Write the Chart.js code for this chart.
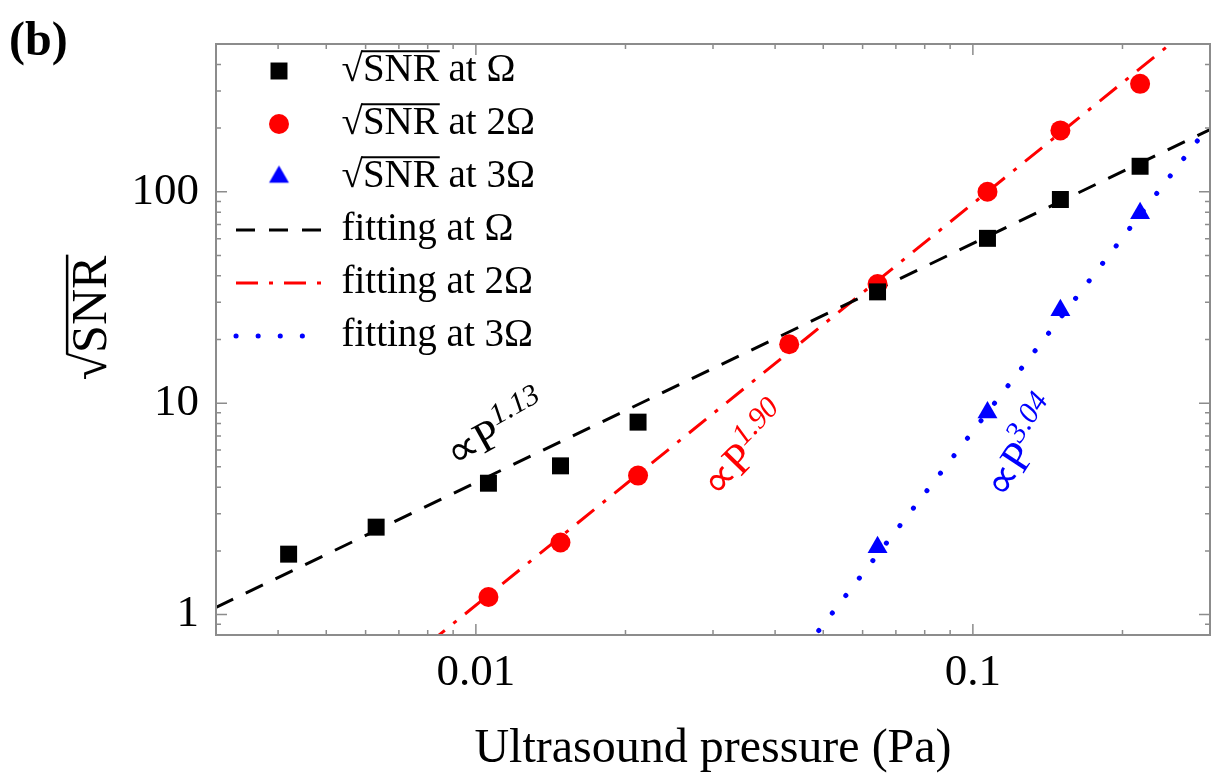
<!DOCTYPE html>
<html>
<head>
<meta charset="utf-8">
<script src="https://cdn.jsdelivr.net/npm/chart.js@4.4.0/dist/chart.umd.min.js"></script>
<style>
  html, body { margin: 0; padding: 0; background: #fff; }
</style>
</head>
<body>
<canvas id="grafico" width="1222" height="782"></canvas>
<script>
// pontos medidos (Pa, sqrt(SNR))
var pressaoOmega = [0.0042, 0.0063, 0.0106, 0.0148, 0.0212, 0.0643, 0.107, 0.150, 0.217];
var snrOmega = [1.93, 2.59, 4.18, 5.05, 8.13, 33.6, 60.2, 91.9, 132];
var pressao2Omega = [0.0106, 0.0148, 0.0212, 0.0427, 0.0643, 0.107, 0.150, 0.217];
var snr2Omega = [1.21, 2.19, 4.54, 19.0, 36.6, 100, 195, 324];
var pressao3Omega = [0.0643, 0.107, 0.150, 0.217];
var snr3Omega = [2.08, 9.04, 27.5, 79.2];

// retas de ajuste (extremos)
var ajusteOmegaX = [0.003, 0.3];
var ajusteOmegaY = [1.08, 197];
var ajuste2OmegaX = [0.008, 0.26];
var ajuste2OmegaY = [0.724, 540];
var ajuste3OmegaX = [0.046, 0.3];
var ajuste3OmegaY = [0.694, 208];

// marcas dos eixos
var xTicks = [0.01, 0.1];
var xMenores = [0.004, 0.005, 0.006, 0.007, 0.008, 0.009, 0.02, 0.03, 0.04, 0.05, 0.06, 0.07, 0.08, 0.09, 0.2];
var yTicks = [1, 10, 100];
var yMenores = [0.9, 2, 3, 4, 5, 6, 7, 8, 9, 20, 30, 40, 50, 60, 70, 80, 90, 200, 300, 400];

var fonte = 'Liberation Serif';
var legFonte = 39, legPad = 14, legCaixa = 86;

var rotulos = [
  { base: '\u221DP', exp: '1.13', x: 0.0110, y: 7.47, ang: -29, cor: '#000' },
  { base: '\u221DP', exp: '1.90', x: 0.0349, y: 5.98, ang: -46, cor: '#f00' },
  { base: '\u221DP', exp: '3.04', x: 0.126, y: 6.18, ang: -57, cor: '#00f' }
];

function pontos(xs, ys) {
  return xs.map(function(x, i) { return { x: x, y: ys[i] }; });
}

// simbolo da legenda no tamanho do ponto
function marcador(estilo, raio, cor) {
  var c = document.createElement('canvas');
  c.width = c.height = Math.ceil(2 * raio + 4);
  var g = c.getContext('2d');
  g.fillStyle = cor;
  Chart.helpers.drawPoint(g, { pointStyle: estilo, radius: raio, borderWidth: 0, rotation: 0 }, c.width / 2, c.height / 2);
  return c;
}

// barra da raiz sobre "SNR"
function barraRaiz(ctx, x, y) {
  var wRaiz = ctx.measureText('\u221A').width;
  var wTudo = ctx.measureText('\u221ASNR').width;
  var topo = y - ctx.measureText('\u221A').actualBoundingBoxAscent;
  ctx.beginPath();
  ctx.moveTo(x + wRaiz - 1.5, topo + 1);
  ctx.lineTo(x + wTudo + 1, topo + 1);
  ctx.stroke();
}

var molduraPlugin = {
  id: 'moldura',
  beforeDraw: function(chart) {
    var leg = chart.legend;
    leg.left = 222;
    leg.top = 37.5;
    leg.bottom = 635;
  },
  afterDraw: function(chart) {
    var ctx = chart.ctx, a = chart.chartArea;
    var sx = chart.scales.x, sy = chart.scales.y;
    ctx.save();
    ctx.strokeStyle = '#8c8c8c';
    ctx.lineWidth = 2;
    ctx.strokeRect(a.left, a.top, a.right - a.left, a.bottom - a.top);
    ctx.lineWidth = 1.5;
    ctx.beginPath();
    function marcaX(v, t) {
      var p = sx.getPixelForValue(v);
      ctx.moveTo(p, a.bottom); ctx.lineTo(p, a.bottom - t);
      ctx.moveTo(p, a.top); ctx.lineTo(p, a.top + t);
    }
    function marcaY(v, t) {
      var p = sy.getPixelForValue(v);
      ctx.moveTo(a.left, p); ctx.lineTo(a.left + t, p);
      ctx.moveTo(a.right, p); ctx.lineTo(a.right - t, p);
    }
    xTicks.forEach(function(v) { marcaX(v, 11); });
    xMenores.forEach(function(v) { marcaX(v, 5); });
    yTicks.forEach(function(v) { marcaY(v, 11); });
    yMenores.forEach(function(v) { marcaY(v, 5); });
    ctx.stroke();

    // (b)
    ctx.fillStyle = '#000';
    ctx.font = 'bold 48px ' + fonte;
    ctx.textAlign = 'left';
    ctx.textBaseline = 'alphabetic';
    ctx.fillText('(b)', 9, 55);

    // titulo do eixo y
    ctx.save();
    ctx.translate(93, 318);
    ctx.rotate(-Math.PI / 2);
    ctx.font = '50px ' + fonte;
    ctx.textBaseline = 'middle';
    var wt = ctx.measureText('\u221ASNR').width;
    ctx.fillText('\u221ASNR', -wt / 2, 0);
    ctx.strokeStyle = '#000';
    ctx.lineWidth = 2.5;
    barraRaiz(ctx, -wt / 2, 0);
    ctx.restore();

    // barras da raiz na legenda
    ctx.font = legFonte + 'px ' + fonte;
    ctx.textBaseline = 'middle';
    ctx.strokeStyle = '#000';
    ctx.lineWidth = 2;
    var leg = chart.legend;
    for (var i = 0; i < 3; i++) {
      var tx = leg.left + legPad + legCaixa + legFonte / 2;
      var ty = leg.top + legPad + legFonte / 2 + i * (legFonte + legPad);
      barraRaiz(ctx, tx, ty);
    }

    // rotulos das leis de potencia
    rotulos.forEach(function(r) {
      ctx.save();
      ctx.translate(sx.getPixelForValue(r.x), sy.getPixelForValue(r.y));
      ctx.rotate(r.ang * Math.PI / 180);
      ctx.fillStyle = r.cor;
      ctx.textBaseline = 'alphabetic';
      ctx.font = '44px ' + fonte;
      var w1 = ctx.measureText(r.base).width;
      ctx.font = 'italic 30px ' + fonte;
      var w2 = ctx.measureText(r.exp).width;
      var x0 = -(w1 + w2) / 2;
      ctx.font = '44px ' + fonte;
      ctx.fillText(r.base, x0, 15);
      ctx.font = 'italic 30px ' + fonte;
      ctx.fillText(r.exp, x0 + w1, -4);
      ctx.restore();
    });
    ctx.restore();
  }
};

var grafico = new Chart(document.getElementById('grafico'), {
  type: 'scatter',
  data: {
    datasets: [
      { label: '\u221ASNR at \u03A9', data: pontos(pressaoOmega, snrOmega), showLine: false,
        pointStyle: 'rect', pointRadius: 12, backgroundColor: '#000', borderColor: '#000', borderWidth: 0 },
      { label: '\u221ASNR at 2\u03A9', data: pontos(pressao2Omega, snr2Omega), showLine: false,
        pointStyle: 'circle', pointRadius: 10, backgroundColor: '#f00', borderColor: '#f00', borderWidth: 0 },
      { label: '\u221ASNR at 3\u03A9', data: pontos(pressao3Omega, snr3Omega), showLine: false,
        pointStyle: 'triangle', pointRadius: 11.5, backgroundColor: '#00f', borderColor: '#00f', borderWidth: 0 },
      { label: 'fitting at \u03A9', data: pontos(ajusteOmegaX, ajusteOmegaY), showLine: true,
        pointRadius: 0, pointStyle: 'line', borderColor: '#000', borderWidth: 3, borderDash: [19, 14] },
      { label: 'fitting at 2\u03A9', data: pontos(ajuste2OmegaX, ajuste2OmegaY), showLine: true,
        pointRadius: 0, pointStyle: 'line', borderColor: '#f00', borderWidth: 3, borderDash: [22, 11, 4, 11] },
      { label: 'fitting at 3\u03A9', data: pontos(ajuste3OmegaX, ajuste3OmegaY), showLine: true,
        pointRadius: 0, pointStyle: 'line', borderColor: '#00f', borderWidth: 5, borderDash: [0.1, 22],
        borderCapStyle: 'round' }
    ]
  },
  options: {
    responsive: false,
    animation: false,
    events: [],
    layout: { padding: { left: 0, top: 30, right: 2, bottom: 0 } },
    scales: {
      x: {
        type: 'logarithmic', position: 'bottom', min: 0.003, max: 0.3,
        afterBuildTicks: function(s) { s.ticks = xTicks.map(function(v) { return { value: v }; }); },
        afterFit: function(s) { s.height = 147; },
        grid: { display: false, drawTicks: false },
        border: { display: false },
        ticks: { color: '#000', font: { family: fonte, size: 45 }, padding: 11, maxRotation: 0, autoSkip: false,
          callback: function(v) { return String(v); } },
        title: { display: true, text: 'Ultrasound pressure (Pa)', color: '#000',
          font: { family: fonte, size: 48 }, padding: { top: 0, bottom: 4 } }
      },
      y: {
        type: 'logarithmic', position: 'left', min: 0.8, max: 500,
        afterBuildTicks: function(s) { s.ticks = yTicks.map(function(v) { return { value: v }; }); },
        afterFit: function(s) { s.width = 216; },
        grid: { display: false, drawTicks: false },
        border: { display: false },
        ticks: { color: '#000', font: { family: fonte, size: 45 }, padding: 17, autoSkip: false,
          callback: function(v) { return String(v); } }
      }
    },
    plugins: {
      tooltip: { enabled: false },
      legend: {
        position: 'chartArea', align: 'start',
        labels: {
          color: '#000', font: { family: fonte, size: legFonte }, padding: legPad,
          usePointStyle: true, pointStyleWidth: legCaixa, boxHeight: 17,
          generateLabels: function(chart) {
            var itens = Chart.defaults.plugins.legend.labels.generateLabels(chart);
            itens.forEach(function(item) {
              var ds = chart.data.datasets[item.datasetIndex];
              if (ds.showLine) {
                item.lineDash = ds.borderDash;
                item.lineWidth = ds.borderWidth;
                item.strokeStyle = ds.borderColor;
                item.lineCap = ds.borderCapStyle || 'butt';
              } else {
                item.lineWidth = 0;
                item.pointStyle = marcador(ds.pointStyle, ds.pointRadius, ds.backgroundColor);
              }
            });
            return itens;
          }
        }
      }
    }
  },
  plugins: [molduraPlugin]
});
</script>
</body>
</html>
